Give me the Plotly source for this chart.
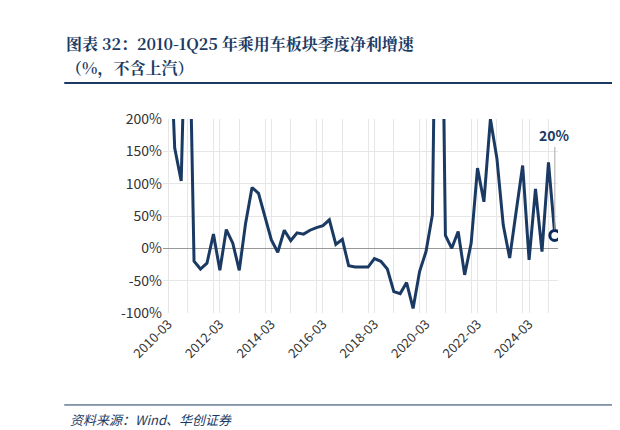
import plotly.graph_objects as go
import pandas as pd

dates = pd.date_range("2010-03-31", periods=61, freq="QE").strftime("%Y-%m-%d").tolist()
growth = [400, 155, 104, 500, -20, -32, -23, 22, -34, 29, 8, -34, 39, 94, 85, 50, 13, -6, 28, 12,
          24, 22, 28, 32, 35, 44, 6, 14, -27, -29, -29, -29, -16, -20, -32, -67, -70, -53, -93,
          -36, -5, 52, 800, 20, 0, 26, -41, 8, 124, 72, 200, 139, 36, -15, 57, 128, -18, 92, -5,
          133, 20]
yticks = [-100, -50, 0, 50, 100, 150, 200]
ylabels = ["-100%", "-50%", "0%", "50%", "100%", "150%", "200%"]

navy = "#1b3a63"
fig = go.Figure()
fig.add_trace(go.Scatter(x=dates, y=growth, mode="lines", line=dict(color=navy, width=3)))
fig.add_trace(go.Scatter(x=[dates[-1]], y=[growth[-1]], mode="markers",
                         marker=dict(size=10, color="white", line=dict(color="#0d2a5c", width=3))))
fig.add_annotation(x=dates[-1], y=growth[-1], ax=0, ay=-100, text="<b>20%</b>",
                   showarrow=True, arrowhead=0, arrowcolor="#aaaaaa", arrowwidth=1,
                   standoff=6, font=dict(size=14, color=navy))
fig.update_layout(
    width=620, height=430, plot_bgcolor="white", paper_bgcolor="white",
    margin=dict(l=155, r=70, t=111, b=125), showlegend=False,
    font=dict(family="Noto Sans CJK SC", color="#333"),
    xaxis=dict(type="date", range=["2010-01-15", "2025-05-15"], tick0="2010-03-31", dtick="M24",
               tickformat="%Y-%m", tickangle=-45, showgrid=True, gridcolor="#e6e6e6",
               minor=dict(dtick="M12", showgrid=True, gridcolor="#e6e6e6"),
               tickfont=dict(size=13, color="#333", family="Noto Sans CJK SC"), showline=False, zeroline=False),
    yaxis=dict(range=[-100, 200], tickvals=yticks, ticktext=ylabels, showgrid=True, gridcolor="#e6e6e6",
               zeroline=True, zerolinecolor="#999", zerolinewidth=1,
               tickfont=dict(size=14, color="#333", family="Noto Sans CJK SC")),
)
fig.add_annotation(xref="paper", yref="paper", x=-0.25, y=1.0, xanchor="left", yanchor="bottom", yshift=62,
                   text="<b>图表 32：2010-1Q25 年乘用车板块季度净利增速</b>", showarrow=False,
                   font=dict(size=16, color="#1b3a63", family="Noto Serif CJK SC, Noto Sans CJK SC"))
fig.add_annotation(xref="paper", yref="paper", x=-0.25, y=1.0, xanchor="left", yanchor="bottom", yshift=38,
                   text="<b>（%，不含上汽）</b>", showarrow=False,
                   font=dict(size=16, color="#1b3a63", family="Noto Serif CJK SC, Noto Sans CJK SC"))
fig.add_shape(type="line", xref="paper", yref="paper", x0=-0.25, x1=1.153, y0=1.186, y1=1.186,
              line=dict(color="#1b3a63", width=2))
fig.add_shape(type="line", xref="paper", yref="paper", x0=-0.25, x1=1.153, y0=-0.474, y1=-0.474,
              line=dict(color="#1b3a63", width=1))
fig.add_annotation(xref="paper", yref="paper", x=-0.24, y=-0.49, xanchor="left", yanchor="top",
                   text="<i>资料来源：Wind、华创证券</i>", showarrow=False,
                   font=dict(size=13, color="#1b3a63"))
fig.write_html("out.html")
